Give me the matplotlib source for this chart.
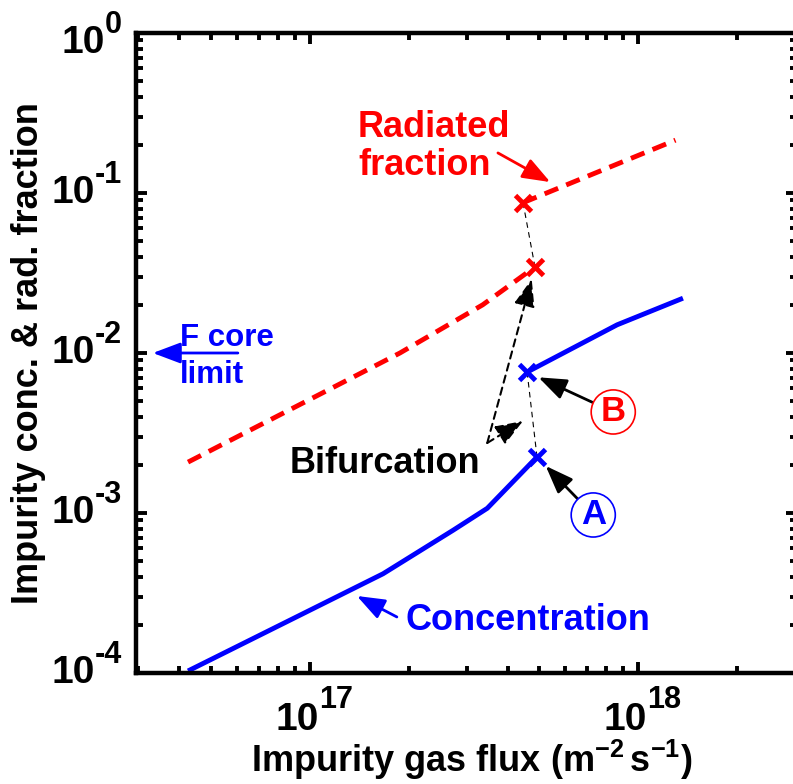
"""Impurity concentration and radiated fraction vs impurity gas flux (bifurcation plot)."""

import matplotlib

matplotlib.use("Agg")
import matplotlib.pyplot as plt

plt.rcParams["font.family"] = ["Liberation Sans", "DejaVu Sans"]
plt.rcParams["font.weight"] = "bold"
plt.rcParams["axes.labelweight"] = "bold"
plt.rcParams["mathtext.fontset"] = "custom"
plt.rcParams["mathtext.rm"] = "Liberation Sans:bold"
plt.rcParams["mathtext.it"] = "Liberation Sans:bold"
plt.rcParams["mathtext.bf"] = "Liberation Sans:bold"
plt.rcParams["mathtext.default"] = "bf"

BLUE = "#0000ff"
RED = "#ff0000"

# concentration, low-flux branch (ends at point A)
conc_lo_flux = [4.25e16, 1.67e17, 2.73e17, 3.47e17, 4.92e17]
conc_lo = [1.03e-4, 4.17e-4, 7.8e-4, 1.07e-3, 2.24e-3]
# concentration, high-flux branch (starts at point B)
conc_hi_flux = [4.59e17, 8.63e17, 1.37e18]
conc_hi = [7.6e-3, 1.5e-2, 2.2e-2]
# radiated fraction, low- and high-flux branches
rad_lo_flux = [4.25e16, 1.02e17, 1.88e17, 3.36e17, 4.85e17]
rad_lo = [2.08e-3, 5.24e-3, 1.0e-2, 2.0e-2, 3.45e-2]
rad_hi_flux = [4.46e17, 7.65e17, 1.30e18]
rad_hi = [8.7e-2, 0.137, 0.214]
# F core limit on concentration
f_core_limit = 1e-2

x_decades = [17, 18]
y_decades = [0, -1, -2, -3, -4]

fig = plt.figure(figsize=(7.93, 7.84), dpi=100)
ax = fig.add_axes([136 / 793, 111 / 784, 661 / 793, 640 / 784])
ax.set_xscale("log")
ax.set_yscale("log")
ax.set_xlim(2.95e16, 3.05e18)
ax.set_ylim(1e-4, 1)

# --- curves -------------------------------------------------------------------
ax.plot(conc_lo_flux, conc_lo, color=BLUE, lw=3.5, solid_capstyle="butt")
ax.plot(conc_hi_flux, conc_hi, color=BLUE, lw=3.5, solid_capstyle="butt")
ax.plot(rad_lo_flux, rad_lo, color=RED, lw=3.5, dashes=(3, 1.8))
ax.plot(rad_hi_flux, rad_hi, color=RED, lw=3.5, dashes=(3, 1.8))

# jumps between branches (thin black dashed)
ax.plot([rad_hi_flux[0], rad_lo_flux[-1]], [rad_hi[0], rad_lo[-1]], color="k", lw=0.8, dashes=(5, 4))
ax.plot([conc_hi_flux[0], conc_lo_flux[-1]], [conc_hi[0], conc_lo[-1]], color="k", lw=0.8, dashes=(5, 4))

# branch end points
ax.plot([conc_lo_flux[-1], conc_hi_flux[0]], [conc_lo[-1], conc_hi[0]], "x", color=BLUE, ms=12, mew=3.5, zorder=5)
ax.plot([rad_lo_flux[-1], rad_hi_flux[0]], [rad_lo[-1], rad_hi[0]], "x", color=RED, ms=12, mew=3.5, zorder=5)

# --- annotations --------------------------------------------------------------
head = "-|>,head_length=0.85,head_width=0.32"

# multi-line texts: va="baseline" anchors the last line
ax.text(1.40e17, 0.1296, "Radiated\nfraction", color=RED, fontsize=26, ha="left", va="baseline", linespacing=1.1)
ax.annotate("", xy=(5.40e17, 0.117), xytext=(3.74e17, 0.178),
            arrowprops=dict(arrowstyle=head, color=RED, lw=2, mutation_scale=20, shrinkA=0, shrinkB=0))

ax.text(1.95e17, 1.86e-4, "Concentration", color=BLUE, fontsize=26, ha="left", va="baseline")
ax.annotate("", xy=(1.39e17, 3.03e-4), xytext=(1.84e17, 2.24e-4),
            arrowprops=dict(arrowstyle=head, color=BLUE, lw=2, mutation_scale=20, shrinkA=0, shrinkB=0))

ax.text(4.02e16, 6.49e-3, "F core\nlimit", color=BLUE, fontsize=22.5, ha="left", va="baseline", linespacing=1.32)
ax.annotate("", xy=(3.32e16, f_core_limit), xytext=(6.03e16, f_core_limit),
            arrowprops=dict(arrowstyle=head, color=BLUE, lw=2, mutation_scale=20, shrinkA=0, shrinkB=0))

ax.text(8.69e16, 1.78e-3, "Bifurcation", color="k", fontsize=26, ha="left", va="baseline")
ax.annotate("", xy=(rad_lo_flux[-1], rad_lo[-1]), xytext=(3.47e17, 2.74e-3),
            arrowprops=dict(arrowstyle=head, color="k", lw=1.5, ls=(0, (3.5, 2.5)),
                            mutation_scale=20, shrinkA=0, shrinkB=9))
ax.annotate("", xy=(4.46e17, 3.76e-3), xytext=(3.47e17, 2.74e-3),
            arrowprops=dict(arrowstyle=head, color="k", lw=1.5, ls=(0, (3.5, 2.5)),
                            mutation_scale=20, shrinkA=0, shrinkB=0))

ax.annotate("A", xy=(conc_lo_flux[-1], conc_lo[-1]), xytext=(7.30e17, 9.72e-4), color=BLUE, fontsize=25,
            ha="center", va="center",
            bbox=dict(boxstyle="circle,pad=0.16", fc="white", ec=BLUE, lw=1.2),
            arrowprops=dict(arrowstyle=head, color="k", lw=2, mutation_scale=20, shrinkA=0, shrinkB=9))
ax.annotate("B", xy=(conc_hi_flux[0], conc_hi[0]), xytext=(8.40e17, 4.28e-3), color=RED, fontsize=25,
            ha="center", va="center",
            bbox=dict(boxstyle="circle,pad=0.16", fc="white", ec=RED, lw=1.2),
            arrowprops=dict(arrowstyle=head, color="k", lw=2, mutation_scale=20, shrinkA=0, shrinkB=9))

# --- axes styling -------------------------------------------------------------
for spine in ax.spines.values():
    spine.set_linewidth(3.2)
ax.tick_params(which="both", direction="in", top=True, right=True, labelleft=False, labelbottom=False)
ax.tick_params(which="major", length=8, width=2.8)
ax.tick_params(which="minor", length=5, width=2.8)

# MATLAB-style "10^n" labels with large superscripts
renderer = fig.canvas.get_renderer()
for e in y_decades:
    dy = -10 if e == 0 else 0
    sup = ax.annotate(f"{e}", (0, 10.0**e), xycoords=ax.get_yaxis_transform(), xytext=(-14, 10 + dy),
                      textcoords="offset pixels", ha="right", va="baseline", fontsize=22)
    w = sup.get_window_extent(renderer).width
    ax.annotate("10", (0, 10.0**e), xycoords=ax.get_yaxis_transform(), xytext=(-14 - w, -10 + dy),
                textcoords="offset pixels", ha="right", va="baseline", fontsize=28)
for e in x_decades:
    ax.annotate("10", (10.0**e, 0), xycoords=ax.get_xaxis_transform(), xytext=(9, -57),
                textcoords="offset pixels", ha="right", va="baseline", fontsize=28)
    ax.annotate(f"{e}", (10.0**e, 0), xycoords=ax.get_xaxis_transform(), xytext=(9, -35),
                textcoords="offset pixels", ha="left", va="baseline", fontsize=22)

ax.set_xlabel(r"Impurity gas flux (m$^{-2}\,$s$^{-1}$)", fontsize=26, va="baseline")
ax.xaxis.set_label_coords(0.508, -0.1547)
ax.set_ylabel("Impurity conc. & rad. fraction", fontsize=26, va="center")
ax.yaxis.set_label_coords(-0.163, 0.5)

fig.savefig("out.png", dpi=100)
plt.close(fig)
